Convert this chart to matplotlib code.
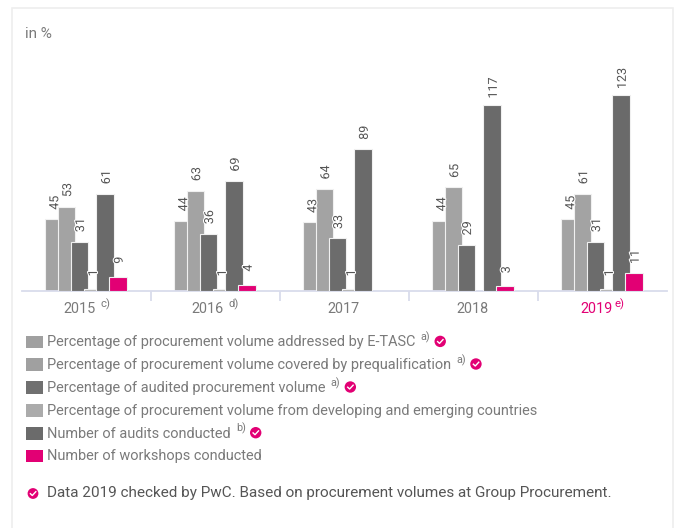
import matplotlib
matplotlib.use("Agg")
import matplotlib.pyplot as plt
import matplotlib.patheffects as pe
from matplotlib.patches import Rectangle, Circle

plt.rcParams['font.family'] = ['Roboto', 'DejaVu Sans']

years = ["2015", "2016", "2017", "2018", "2019"]
year_sups = ["c)", "d)", "", "", "e)"]
etasc = [45, 44, 43, 44, 45]
prequal = [53, 63, 64, 65, 61]
audited = [31, 36, 33, 29, 31]
developing = [1, 1, 1, None, 1]
audits = [61, 69, 89, 117, 123]
workshops = [9, 4, None, 3, 11]
series = [etasc, prequal, audited, developing, audits, workshops]
colors = ["#a3a3a3", "#a3a3a3", "#6c6c6c", "#b0b0b0", "#6a6a6a", "#e20074"]
legend_labels = [
    "Percentage of procurement volume addressed by E-TASC",
    "Percentage of procurement volume covered by prequalification",
    "Percentage of audited procurement volume",
    "Percentage of procurement volume from developing and emerging countries",
    "Number of audits conducted",
    "Number of workshops conducted",
]
legend_sups = ["a)", "a)", "a)", "", "b)", ""]
legend_checks = [True, True, True, False, True, False]
legend_colors = ["#a0a0a0", "#a0a0a0", "#707070", "#ababab", "#6b6b6b", "#e20074"]
footnote = "Data 2019 checked by PwC. Based on procurement volumes at Group Procurement."

W, H = 680, 528
PINK = "#e20074"
GREY = "#7a7a7a"
fig = plt.figure(figsize=(W / 100, H / 100), dpi=100)

# pixel overlay
ov = fig.add_axes([0, 0, 1, 1], zorder=0)
ov.set_xlim(0, W)
ov.set_ylim(H, 0)
ov.axis("off")
ov.add_patch(Rectangle((11.5, 8), 661.5, 530, fc="white", ec="#eeeeee", lw=1.2))

# chart
L, R, T, B = 21.5, 666.5, 40, 291
ax = fig.add_axes([L / W, 1 - B / H, (R - L) / W, (B - T) / H], zorder=1)
ax.patch.set_alpha(0)
ax.set_xlim(-0.5, 4.5)
ax.set_ylim(0, (B - T) / 1.594)
for s in ("top", "left", "right"):
    ax.spines[s].set_visible(False)
ax.spines["bottom"].set_color("#d9dcec")
ax.spines["bottom"].set_linewidth(1.3)
ax.set_yticks([])
ax.set_xticks([0.5, 1.5, 2.5, 3.5])
ax.set_xticklabels([])
ax.tick_params(axis="x", length=7, width=1.3, color="#d9dcec")

step = 0.1
shift = -0.2 / 129
for i, (vals, col) in enumerate(zip(series, colors)):
    off = (i - 2.5) * step + shift
    for j, v in enumerate(vals):
        if v is None:
            continue
        ax.bar(j + off, v, width=17.4 / 129, color=col, edgecolor="#f0f0f0", linewidth=0.8, zorder=2 + i)
        ax.annotate(str(v), (j + off, v), xytext=(1.2 * 0.72, 16.5 * 0.72), textcoords="offset points",
                    rotation=90, ha="center", va="center", fontsize=9, color="#555555", zorder=10,
                    path_effects=[pe.withStroke(linewidth=1.5, foreground="white")])

def check(cx, cy, r=5.7):
    ov.add_patch(Circle((cx, cy), r, fc=PINK, ec="none"))
    ov.plot([cx - 2.6, cx - 0.7, cx + 2.8], [cy + 0.2, cy + 2.0, cy - 1.8], color="white", lw=1.0)

rend = fig.canvas.get_renderer()
centers = [85.5, 214.5, 343.5, 472.5, 601.5]
year_shift = [-6.5, -7.5, 0, 0, -5]
for c, y, sup, sh in zip(centers, years, year_sups, year_shift):
    col = PINK if y == "2019" else GREY
    t = ov.text(c + sh, 309, y, ha="center", va="center", fontsize=10.4, color=col)
    if sup:
        x1 = t.get_window_extent(rend).x1
        ov.text(x1 + (5 if y != "2019" else 1.5), 304.5, sup, ha="left", va="center", fontsize=8.2, color=col)

ov.text(25, 33.5, "in %", ha="left", va="center", fontsize=11, color=GREY)

ys = [341.7, 364.3, 387.3, 410.3, 433, 455.7]
for y, lab, sup, chk, col in zip(ys, legend_labels, legend_sups, legend_checks, legend_colors):
    ov.add_patch(Rectangle((25.5, y - 6), 17, 12.5, fc=col, ec="none"))
    t = ov.text(47.2, y + 0.5, lab, ha="left", va="center", fontsize=10.45, color=GREY)
    x = t.get_window_extent(rend).x1
    if sup:
        s = ov.text(x + 5, y - 4.5, sup, ha="left", va="center", fontsize=7.8, color=GREY)
        x = s.get_window_extent(rend).x1
    if chk:
        check(x + 10, y - 0.3)

check(33, 493.5, 5.4)
ov.text(47.2, 493.5, footnote, ha="left", va="center", fontsize=10.97, color="#555555")

fig.savefig("out.png", dpi=100)
